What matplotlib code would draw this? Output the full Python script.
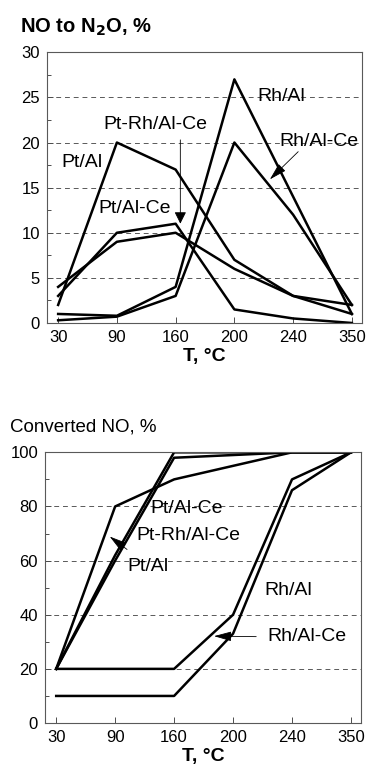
import matplotlib.pyplot as plt
from matplotlib.ticker import MultipleLocator

plt.rcParams['font.family'] = ['Liberation Sans', 'DejaVu Sans']

temps = ['30', '90', '160', '200', '240', '350']

# NO converted to N2O, %
n2o_pt_al = [2, 20, 17, 7, 3, 2]
n2o_pt_al_ce = [4, 9, 10, 6, 3, 1]
n2o_ptrh_al_ce = [3, 10, 11, 1.5, 0.5, 0]
n2o_rh_al = [1, 0.8, 4, 27, 14, 1]
n2o_rh_al_ce = [0.3, 0.7, 3, 20, 12, 2]

# total NO conversion, %
conv_pt_al = [20, 80, 90, 95, 100, 100]
conv_pt_al_ce = [20, 62, 100, 100, 100, 100]
conv_ptrh_al_ce = [20, 60, 98, 99, 100, 100]
conv_rh_al = [20, 20, 20, 40, 90, 100]
conv_rh_al_ce = [10, 10, 10, 33, 86, 100]

fig = plt.figure(figsize=(3.67, 7.69), dpi=100)
ax1 = fig.add_axes([0.128, 0.580, 0.858, 0.352])
ax2 = fig.add_axes([0.1226, 0.0598, 0.861, 0.352])

pos = range(len(temps))
lw = 1.8


def style(ax, ymax, major, minor):
    ax.set_xlim(-0.19, 5.17)
    ax.set_ylim(0, ymax)
    ax.set_xticks(list(pos))
    ax.set_xticklabels(temps)
    ax.yaxis.set_major_locator(MultipleLocator(major))
    ax.yaxis.set_minor_locator(MultipleLocator(minor))
    ax.tick_params(direction='in', length=4, width=0.7, color='0.3',
                   labelsize=12, pad=5)
    ax.tick_params(which='minor', direction='in', length=3, width=0.7,
                   color='0.3')
    ax.yaxis.grid(True, ls=(0, (5, 4)), lw=0.7, color='0.35')
    for s in ax.spines.values():
        s.set_linewidth(0.8)
        s.set_color('0.35')
    ax.set_xlabel('T, °C', fontsize=14, fontweight='bold', labelpad=2)


for ys in [n2o_pt_al, n2o_pt_al_ce, n2o_ptrh_al_ce, n2o_rh_al, n2o_rh_al_ce]:
    ax1.plot(pos, ys, color='black', lw=lw)
style(ax1, 30, 5, 2.5)

for ys in [conv_pt_al, conv_pt_al_ce, conv_ptrh_al_ce, conv_rh_al, conv_rh_al_ce]:
    ax2.plot(pos, ys, color='black', lw=lw)
style(ax2, 100, 20, 10)

fig.text(0.054, 0.965, r'NO to N$_\mathbf{2}$O, %', fontsize=14.5,
         fontweight='bold', va='center')
fig.text(0.027, 0.445, 'Converted NO, %', fontsize=13.5, va='center')

arrow = dict(arrowstyle='-|>,head_length=0.9,head_width=0.25',
             color='black', lw=0.6, mutation_scale=12)
fs = 14

# labels, N2O panel
ax1.text(0.41, 17.8, 'Pt/Al', fontsize=fs, ha='center', va='center')
ax1.text(1.65, 22.0, 'Pt-Rh/Al-Ce', fontsize=fs, ha='center', va='center')
ax1.text(1.31, 12.7, 'Pt/Al-Ce', fontsize=fs, ha='center', va='center')
ax1.text(3.79, 25.1, 'Rh/Al', fontsize=fs, ha='center', va='center')
ax1.text(4.44, 20.1, 'Rh/Al-Ce', fontsize=fs, ha='center', va='center')
ax1.annotate('', xy=(2.08, 10.7), xytext=(2.08, 20.6),
             arrowprops=dict(arrowstyle='-|>,head_length=0.6,head_width=0.3',
                             color='black', lw=0.6, mutation_scale=12))
ax1.annotate('', xy=(3.57, 15.7), xytext=(4.12, 19.2), arrowprops=arrow)

# labels, conversion panel
ax2.text(2.22, 79.3, 'Pt/Al-Ce', fontsize=fs, ha='center', va='center')
ax2.text(2.25, 69.4, 'Pt-Rh/Al-Ce', fontsize=fs, ha='center', va='center')
ax2.text(1.56, 57.9, 'Pt/Al', fontsize=fs, ha='center', va='center')
ax2.text(3.93, 49.1, 'Rh/Al', fontsize=fs, ha='center', va='center')
ax2.text(4.25, 32.1, 'Rh/Al-Ce', fontsize=fs, ha='center', va='center')
ax2.annotate('', xy=(0.87, 69.5), xytext=(1.24, 63.5), arrowprops=arrow)
ax2.annotate('', xy=(2.63, 32.1), xytext=(3.44, 31.9), arrowprops=arrow)

fig.savefig('out.png', dpi=100)
